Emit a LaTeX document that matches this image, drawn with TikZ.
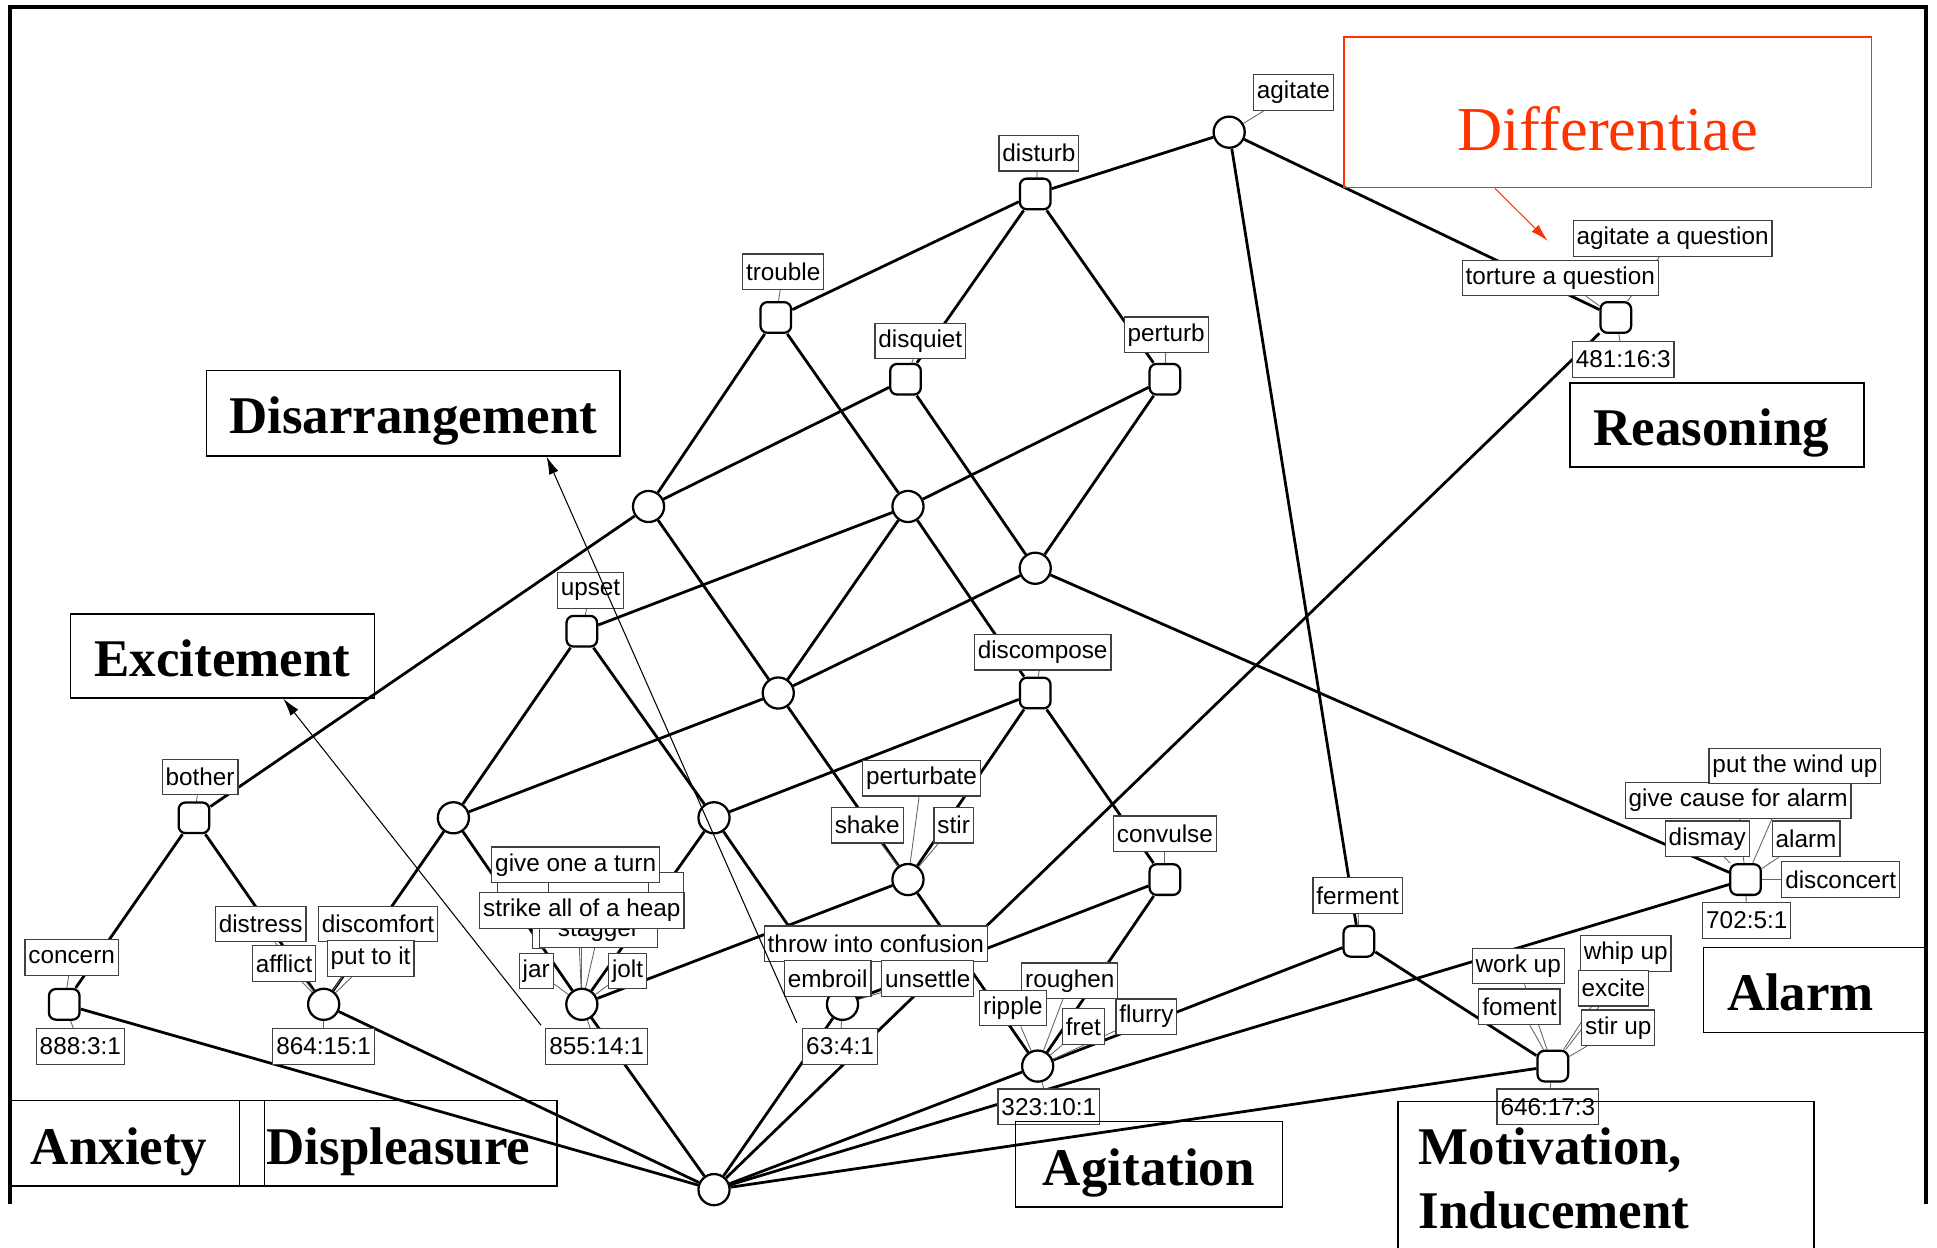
\documentclass[tikz,border=0pt]{standalone}
\usepackage{fontspec}
\setmainfont{Liberation Serif}
\newfontfamily\lblfont{Liberation Sans}
\usetikzlibrary{arrows.meta,backgrounds}
\definecolor{diffred}{RGB}{255,51,0}

\begin{document}
\begin{tikzpicture}[x=0.25mm,y=-0.25mm,
        link/.style={line width=1.6pt},
        tick/.style={line width=0.5pt,black!60},
        sqnode/.style={draw,fill=white,line width=1.3pt,rounded corners=1.4mm,minimum size=6.2mm,inner sep=0pt},
        cnode/.style={draw,circle,fill=white,line width=1.3pt,minimum size=6.3mm,inner sep=0pt},
        lbl/.style={draw=black!75,fill=white,line width=0.7pt,inner xsep=0.7mm,inner ysep=0pt,minimum height=7.2mm,font=\lblfont\fontsize{14}{16}\selectfont},
        bigbox/.style={draw,line width=0.8pt,inner sep=0pt,font=\bfseries\fontsize{30.5}{37}\selectfont},
        oneline/.style={text height=8.4mm,text depth=0pt},
        note/.style={-{Latex[length=3.6mm,width=2mm]},line width=0.6pt}
    ]
        \useasboundingbox (0,0) rectangle (1568,1010);
        \draw[line width=2.4pt] (8,975) -- (8,6) -- (1559,6) -- (1559,975);

        \node[cnode] (top) at (995,107) {};
        \node[sqnode] (disturb) at (838,157) {};
        \node[sqnode] (trouble) at (628,257) {};
        \node[sqnode] (disquiet) at (733,307) {};
        \node[sqnode] (perturb) at (943,307) {};
        \node[sqnode] (q481) at (1308,257) {};
        \node[cnode] (cA) at (525,410) {};
        \node[cnode] (cB) at (735,410) {};
        \node[cnode] (cC) at (838,460) {};
        \node[sqnode] (upset) at (471,511) {};
        \node[cnode] (cD) at (630,561) {};
        \node[sqnode] (discompose) at (838,561) {};
        \node[sqnode] (bother) at (157,662) {};
        \node[cnode] (cE) at (367,662) {};
        \node[cnode] (cF) at (578,662) {};
        \node[cnode] (cG) at (735,712) {};
        \node[sqnode] (convulse) at (943,712) {};
        \node[sqnode] (ferment) at (1100,762) {};
        \node[sqnode] (a702) at (1413,712) {};
        \node[sqnode] (concern) at (52,813) {};
        \node[cnode] (o864) at (262,813) {};
        \node[cnode] (o855) at (471,813) {};
        \node[cnode] (o63) at (682,813) {};
        \node[cnode] (o323) at (840,863) {};
        \node[sqnode] (o646) at (1257,863) {};
        \node[cnode] (bottom) at (578,963) {};

        \node[lbl] (lagit) at (1047,75) {agitate};
        \node[lbl] (ldist) at (841,124) {disturb};
        \node[lbl] (ltroub) at (634,220) {trouble};
        \node[lbl] (ldisq) at (745,276) {disquiet};
        \node[lbl] (lpert) at (944,271) {perturb};
        \node[lbl] (laq) at (1354,193) {agitate a question};
        \node[lbl] (ltq) at (1263,225) {torture a question};
        \node[lbl] (l481) at (1314,291) {481:16:3};
        \node[lbl] (lupset) at (478,478) {upset};
        \node[lbl] (ldiscomp) at (844,528) {discompose};
        \node[lbl] (lbother) at (162,629) {bother};
        \node[lbl] (lpturb) at (746,630) {perturbate};
        \node[lbl] (lshake) at (702,668) {shake};
        \node[lbl] (lstir) at (772,668) {stir};
        \node[lbl] (lconv) at (943,675) {convulse};
        \node[lbl] (lferm) at (1099,725) {ferment};
        \node[lbl] (lgca) at (1407,648) {give cause for alarm};
        \node[lbl] (lpwu) at (1453,620) {put the wind up};
        \node[lbl] (ldismay) at (1382,679) {dismay};
        \node[lbl] (lalarm) at (1462,679) {alarm};
        \node[lbl] (ldisc) at (1490,712) {disconcert};
        \node[lbl] (l702) at (1414,745) {702:5:1};
        \node[lbl] (lconcern) at (58,775) {concern};
        \node[lbl] (l888) at (65,847) {888:3:1};
        \node[lbl] (ldistr) at (211,748) {distress};
        \node[lbl] (ldiscf) at (306,748) {discomfort};
        \node[lbl] (lafflict) at (230,780) {afflict};
        \node[lbl] (lputto) at (300,776) {put to it};
        \node[lbl] (l864) at (262,847) {864:15:1};
        \node[lbl,minimum width=10.25mm] (lhidA) at (423.5,720.5) {};
        \node[lbl,minimum width=20.25mm] (lhidB) at (484.5,720.5) {};
        \node[lbl,minimum width=7mm] (lhidC) at (539,720.5) {};
        \node[lbl,minimum width=2.5mm,minimum height=6.5mm] (lhidD) at (436,755) {};
        \node[lbl,minimum width=23.75mm,minimum height=6.5mm] (lstag) at (484.5,754) {stagger};
        \node[lbl] (lgoat) at (466,700) {give one a turn};
        \node[lbl] (lsaoh) at (471,737) {strike all of a heap};
        \node[lbl] (ljar) at (434,786) {jar};
        \node[lbl] (ljolt) at (508,786) {jolt};
        \node[lbl] (l855) at (483,847) {855:14:1};
        \node[lbl] (ltic) at (709,764) {throw into confusion};
        \node[lbl] (lembr) at (670,792) {embroil};
        \node[lbl] (lunset) at (751,792) {unsettle};
        \node[lbl] (l63) at (680,847) {63:4:1};
        \node[lbl] (lrough) at (866,794) {roughen};
        \node[lbl] (lripple) at (820,816) {ripple};
        \node[lbl] (lfret) at (877,831) {fret};
        \node[lbl] (lflurry) at (928,823) {flurry};
        \node[lbl] (l323) at (849,896) {323:10:1};
        \node[lbl] (lworkup) at (1229,782) {work up};
        \node[lbl] (lfoment) at (1230,815) {foment};
        \node[lbl] (lwhip) at (1316,772) {whip up};
        \node[lbl] (lexcite) at (1306,800) {excite};
        \node[lbl] (lstirup) at (1310,832) {stir up};
        \node[lbl] (l646) at (1253,896) {646:17:3};

        \begin{scope}[on background layer]
            \foreach \a/\b in {top/disturb,top/q481,top/ferment,disturb/trouble,disturb/disquiet,disturb/perturb,
                    trouble/cA,trouble/cB,disquiet/cA,disquiet/cC,perturb/cB,perturb/cC,
                    cA/bother,cA/cD,cB/upset,cB/cD,cB/discompose,cC/cD,cC/a702,
                    upset/cE,upset/cF,cD/cE,cD/cG,discompose/cF,discompose/cG,discompose/convulse,
                    bother/concern,bother/o864,cE/o864,cE/o855,cF/o855,cF/o63,cG/o855,cG/o323,
                    convulse/o63,convulse/o323,ferment/o323,ferment/o646,
                    bottom/concern,bottom/o864,bottom/o855,bottom/o63,bottom/q481,bottom/o323,bottom/a702,bottom/o646}
                \draw[link] (\a) -- (\b);
            \foreach \a/\b in {lagit/top,ldist/disturb,ltroub/trouble,ldisq/disquiet,lpert/perturb,
                    laq/q481,ltq/q481,l481/q481,lupset/upset,ldiscomp/discompose,lbother/bother,
                    lpturb/cG,lshake/cG,lstir/cG,lconv/convulse,lferm/ferment,
                    lpwu/a702,lgca/a702,ldismay/a702,lalarm/a702,ldisc/a702,l702/a702,
                    lconcern/concern,l888/concern,ldistr/o864,ldiscf/o864,lafflict/o864,lputto/o864,l864/o864,
                    lgoat/o855,lsaoh/o855,lstag/o855,ljar/o855,ljolt/o855,l855/o855,
                    ltic/o63,lembr/o63,lunset/o63,l63/o63,
                    lrough/o323,lripple/o323,lfret/o323,lflurry/o323,l323/o323,
                    lworkup/o646,lfoment/o646,lwhip/o646,lexcite/o646,lstirup/o646,l646/o646}
                \draw[tick] (\a) -- (\b);
        \end{scope}

        \node[draw=diffred,line width=0.8pt,minimum width=106.75mm,minimum height=30.5mm,inner sep=0pt,
            text height=15.5mm,text depth=0pt,text=diffred,font=\fontsize{36}{40}\selectfont] (diff) at (1301.5,91) {Differentiae};
        \node[bigbox,oneline,minimum width=83.75mm,minimum height=17.25mm] (disarr) at (334.5,334.5) {Disarrangement};
        \node[bigbox,oneline,minimum width=61.5mm,minimum height=17mm] (excit) at (180,531) {Excitement};
        \node[bigbox,oneline,minimum height=17mm,text width=50mm,inner xsep=4.75mm,align=left] (reason) at (1390,344) {Reasoning};
        \node[bigbox,oneline,minimum height=17.25mm,text width=35.25mm,inner xsep=4.75mm,align=left] (alarmbox) at (1468.5,801.5) {Alarm};
        \node[bigbox,oneline,minimum height=17.25mm,text width=43mm,inner xsep=4.25mm,align=left] (anx) at (111,925.5) {Anxiety};
        \node[bigbox,oneline,minimum width=64.25mm,minimum height=17.25mm] (displ) at (322.5,925.5) {Displeasure};
        \node[bigbox,oneline,minimum width=54mm,minimum height=17.25mm] (agitn) at (930,942.5) {Agitation};
        \node[bigbox,anchor=north west,text width=75.75mm,inner xsep=4.25mm,inner ysep=5.3mm,align=left] (motiv) at (1131,891) {Motivation,\\Inducement};

        \coordinate (disfoot) at (645,828);
        \coordinate (excfoot) at (438,830);
        \coordinate (difftip) at (1253,195);
        \draw[note] (disfoot) -- (disarr.-18.5);
        \draw[note] (excfoot) -- (excit.-35);
        \draw[note,diffred] (diff.214) -- (difftip);
\end{tikzpicture}
\end{document}
